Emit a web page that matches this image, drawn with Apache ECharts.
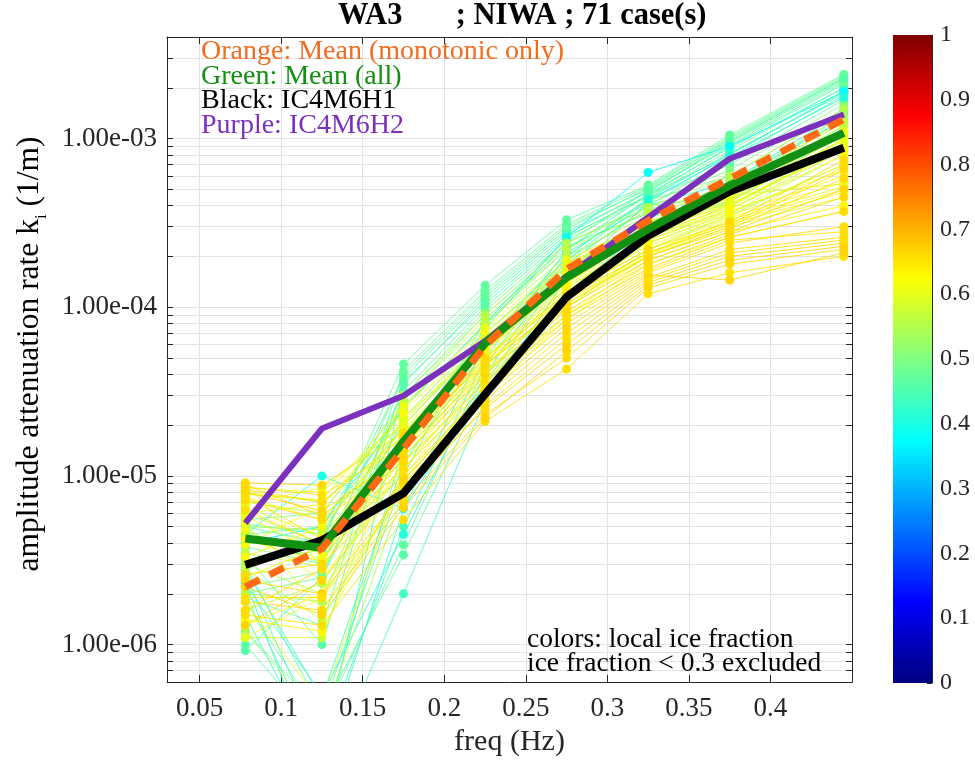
<!DOCTYPE html>
<html><head><meta charset="utf-8">
<script src="https://cdn.jsdelivr.net/npm/echarts@6/dist/echarts.min.js"></script>
<style>html,body{margin:0;padding:0;background:#fff}#chart{width:975px;height:761px}</style>
</head><body><div id="chart"></div>
<script>
// ---------- data ----------
const freqHz = [0.078, 0.125, 0.175, 0.225, 0.275, 0.325, 0.375, 0.445];

const meanMonotonic = [2.2e-6, 3.7e-6, 1.45e-5, 5.9e-5, 1.68e-4, 3.26e-4, 5.78e-4, 1.30e-3];
const meanAll       = [4.26e-6, 3.75e-6, 1.6e-5, 6.1e-5, 1.5e-4, 2.91e-4, 5.27e-4, 1.08e-3];
const ic4m6h1       = [2.97e-6, 4.15e-6, 7.9e-6, 3.05e-5, 1.15e-4, 2.65e-4, 4.86e-4, 8.83e-4];
const ic4m6h2       = [5.25e-6, 1.91e-5, 2.99e-5, 6.3e-5, 1.53e-4, 3.41e-4, 7.59e-4, 1.39e-3];

const cyanIce = [0.38, 0.40, 0.41];
const cyanK = [
  [4.0e-6, 5.0e-6, 2.5e-5, 8.0e-5, 2.6e-4, 6.3e-4, 9.0e-4, 1.9e-3],
  [4.5e-6, 1.0e-5, 6.4e-6, 3.5e-5, 1.2e-4, 3.0e-4, 5.5e-4, 1.3e-3],
  [2.3e-6, 5.0e-7, 4.5e-6, 4.0e-5, 1.9e-4, 4.3e-4, 7.8e-4, 1.75e-3]
];

const aquaIce = [0.47, 0.48, 0.45, 0.46, 0.49, 0.44, 0.46, 0.47, 0.50, 0.49, 0.42,
                 0.48, 0.50, 0.45, 0.50, 0.46, 0.47, 0.44, 0.48, 0.47, 0.46, 0.43];
const aquaK = [
  [5.0e-6, 4.0e-6, 4.6e-5, 1.35e-4, 3.3e-4, 5.3e-4, 1.05e-3, 2.4e-3],
  [3.8e-6, 3.0e-6, 4.0e-5, 1.2e-4, 3.0e-4, 5.0e-4, 1.0e-3, 2.3e-3],
  [2.0e-6, 2.2e-7, 3.5e-5, 1.1e-4, 2.8e-4, 4.8e-4, 9.5e-4, 2.2e-3],
  [9.2e-7, 2.5e-6, 3.2e-5, 1.0e-4, 2.6e-4, 4.6e-4, 9.0e-4, 2.1e-3],
  [4.5e-6, 5.0e-6, 3.0e-5, 9.5e-5, 2.5e-4, 4.5e-4, 8.5e-4, 2.0e-3],
  [2.4e-6, 1.5e-7, 2.0e-6, 2.8e-5, 1.5e-4, 4.2e-4, 8.0e-4, 1.9e-3],
  [3.0e-6, 4.0e-7, 3.4e-6, 3.5e-5, 1.8e-4, 4.0e-4, 7.5e-4, 1.8e-3],
  [1.8e-6, 3.5e-7, 3.9e-6, 4.5e-5, 2.0e-4, 4.4e-4, 7.0e-4, 1.7e-3],
  [4.8e-6, 3.0e-6, 2.8e-5, 9.0e-5, 2.4e-4, 4.1e-4, 6.5e-4, 1.6e-3],
  [5.5e-6, 6.0e-6, 2.5e-5, 8.0e-5, 2.2e-4, 4.3e-4, 6.0e-4, 1.5e-3],
  [1.5e-6, 2.0e-7, 6.4e-6, 6.0e-5, 2.1e-4, 4.0e-4, 5.5e-4, 1.45e-3],
  [2.0e-6, 2.5e-6, 2.2e-5, 7.0e-5, 1.9e-4, 3.8e-4, 5.0e-4, 1.4e-3],
  [3.2e-6, 3.6e-6, 2.0e-5, 6.5e-5, 1.8e-4, 4.0e-4, 4.5e-4, 1.2e-3],
  [1.2e-6, 4.0e-7, 1.0e-5, 8.5e-5, 2.3e-4, 3.6e-4, 4.2e-4, 1.1e-3],
  [2.2e-6, 2.7e-6, 1.8e-5, 6.0e-5, 1.7e-4, 3.5e-4, 4.0e-4, 9.0e-4],
  [1.0e-6, 3.0e-7, 1.5e-5, 7.5e-5, 2.6e-4, 4.6e-4, 8.0e-4, 1.9e-3],
  [4.0e-6, 4.2e-6, 3.8e-5, 1.15e-4, 2.9e-4, 5.1e-4, 9.8e-4, 2.25e-3],
  [2.6e-6, 2.6e-7, 5.0e-6, 5.0e-5, 2.2e-4, 4.7e-4, 8.8e-4, 2.0e-3],
  [5.2e-6, 4.5e-6, 2.6e-5, 7.8e-5, 2.4e-4, 4.9e-4, 9.2e-4, 2.15e-3],
  [1.9e-6, 1.3e-6, 4.2e-5, 1.25e-4, 3.1e-4, 5.2e-4, 1.02e-3, 2.35e-3],
  [3.4e-6, 1.0e-6, 3.6e-5, 1.05e-4, 2.7e-4, 4.9e-4, 9.6e-4, 2.28e-3],
  [2.8e-6, 4.8e-7, 1.2e-5, 5.5e-5, 2.0e-4, 4.4e-4, 8.2e-4, 1.85e-3]
];

const limeIce = [0.56, 0.57, 0.58, 0.55, 0.57, 0.55, 0.56, 0.54, 0.55, 0.58, 0.54, 0.56];
const limeK = [
  [7.0e-6, 6.0e-6, 2.5e-5, 8.0e-5, 2.0e-4, 3.5e-4, 5.0e-4, 1.3e-3],
  [6.0e-6, 4.0e-6, 2.2e-5, 7.0e-5, 1.8e-4, 3.2e-4, 4.8e-4, 1.2e-3],
  [1.1e-6, 1.1e-6, 1.8e-5, 5.5e-5, 1.6e-4, 3.0e-4, 4.5e-4, 1.1e-3],
  [3.0e-6, 2.0e-6, 1.5e-5, 5.0e-5, 1.4e-4, 2.8e-4, 4.2e-4, 1.0e-3],
  [4.5e-6, 3.2e-6, 1.3e-5, 4.5e-5, 1.3e-4, 2.6e-4, 4.0e-4, 9.0e-4],
  [1.6e-6, 2.3e-6, 1.1e-5, 4.0e-5, 1.2e-4, 2.5e-4, 3.8e-4, 8.5e-4],
  [2.8e-6, 1.4e-6, 9.0e-6, 3.5e-5, 1.1e-4, 2.4e-4, 3.6e-4, 8.0e-4],
  [5.0e-6, 4.8e-6, 2.0e-5, 6.5e-5, 1.7e-4, 3.3e-4, 5.5e-4, 1.35e-3],
  [2.0e-6, 1.8e-6, 3.0e-5, 9.0e-5, 2.4e-4, 3.9e-4, 6.0e-4, 1.5e-3],
  [8.0e-6, 7.0e-6, 1.7e-5, 5.5e-5, 1.5e-4, 2.9e-4, 4.6e-4, 5.4e-4],
  [1.2e-6, 3.5e-7, 8.0e-6, 3.0e-5, 1.0e-4, 2.2e-4, 3.5e-4, 7.0e-4],
  [3.5e-6, 2.9e-6, 2.8e-5, 8.5e-5, 2.2e-4, 3.7e-4, 5.2e-4, 1.25e-3]
];

const yellowIce = [0.61, 0.62, 0.60, 0.62, 0.61, 0.60, 0.62, 0.61, 0.63,
                   0.60, 0.62, 0.61, 0.60, 0.63, 0.61, 0.62, 0.60, 0.63];
const yellowK = [
  [8.5e-6, 8.0e-6, 2.2e-5, 6.0e-5, 1.6e-4, 2.9e-4, 4.0e-4, 9.5e-4],
  [7.5e-6, 5.5e-6, 1.9e-5, 5.5e-5, 1.4e-4, 2.6e-4, 3.8e-4, 8.0e-4],
  [6.5e-6, 4.4e-6, 1.6e-5, 5.0e-5, 1.3e-4, 2.4e-4, 3.6e-4, 7.0e-4],
  [5.8e-6, 3.4e-6, 1.4e-5, 4.6e-5, 1.2e-4, 2.2e-4, 3.4e-4, 5.5e-4],
  [4.8e-6, 2.4e-6, 1.2e-5, 4.2e-5, 1.1e-4, 2.1e-4, 3.2e-4, 5.0e-4],
  [1.1e-6, 1.9e-6, 1.0e-5, 3.8e-5, 1.0e-4, 2.0e-4, 3.0e-4, 4.5e-4],
  [3.9e-6, 6.6e-6, 2.4e-5, 7.0e-5, 1.8e-4, 3.1e-4, 4.4e-4, 1.05e-3],
  [2.5e-6, 3.8e-6, 1.7e-5, 5.2e-5, 1.5e-4, 2.7e-4, 3.9e-4, 9.0e-4],
  [1.4e-6, 1.2e-6, 9.5e-6, 3.2e-5, 9.0e-5, 1.9e-4, 2.8e-4, 4.0e-4],
  [6.8e-6, 8.5e-6, 2.0e-5, 6.2e-5, 1.7e-4, 3.0e-4, 4.2e-4, 1.0e-3],
  [9.0e-6, 2.9e-6, 1.3e-5, 4.4e-5, 1.25e-4, 2.3e-4, 3.5e-4, 6.0e-4],
  [5.3e-6, 1.6e-6, 8.5e-6, 3.0e-5, 8.5e-5, 1.8e-4, 2.6e-4, 3.7e-4],
  [1.8e-6, 4.4e-7, 1.1e-5, 4.0e-5, 1.15e-4, 2.1e-4, 3.3e-4, 5.2e-4],
  [3.3e-6, 5.0e-6, 1.8e-5, 5.8e-5, 1.55e-4, 2.75e-4, 4.1e-4, 8.5e-4],
  [7.8e-6, 7.2e-6, 2.6e-5, 7.5e-5, 1.9e-4, 3.2e-4, 4.5e-4, 1.1e-3],
  [1.3e-6, 2.0e-6, 1.2e-5, 3.6e-5, 1.05e-4, 2.05e-4, 3.1e-4, 4.8e-4],
  [6.0e-6, 6.8e-6, 2.1e-5, 6.6e-5, 1.75e-4, 2.95e-4, 4.3e-4, 9.8e-4],
  [4.2e-6, 3.1e-6, 1.5e-5, 4.8e-5, 1.35e-4, 2.5e-4, 3.7e-4, 6.5e-4]
];

const goldIce = [0.66, 0.655, 0.665, 0.66, 0.655, 0.66, 0.665, 0.66,
                 0.655, 0.665, 0.66, 0.655, 0.66, 0.665, 0.66, 0.655];
const goldK = [
  [9.1e-6, 8.8e-6, 1.8e-5, 5.0e-5, 1.2e-4, 2.2e-4, 3.2e-4, 7.5e-4],
  [8.6e-6, 7.7e-6, 1.5e-5, 4.5e-5, 1.1e-4, 2.0e-4, 3.0e-4, 6.5e-4],
  [8.0e-6, 6.2e-6, 1.3e-5, 4.0e-5, 1.0e-4, 1.9e-4, 2.8e-4, 5.0e-4],
  [7.2e-6, 5.5e-6, 1.2e-5, 3.6e-5, 9.0e-5, 1.7e-4, 2.6e-4, 3.7e-4],
  [6.3e-6, 3.9e-6, 1.0e-5, 3.2e-5, 8.0e-5, 1.6e-4, 2.4e-4, 3.0e-4],
  [2.6e-6, 3.0e-6, 9.0e-6, 2.8e-5, 7.0e-5, 1.5e-4, 2.2e-4, 2.6e-4],
  [2.4e-6, 2.0e-6, 8.0e-6, 2.5e-5, 6.0e-5, 1.4e-4, 2.0e-4, 2.4e-4],
  [1.8e-6, 1.6e-6, 7.0e-6, 2.3e-5, 5.0e-5, 1.3e-4, 1.8e-4, 2.2e-4],
  [1.5e-6, 1.3e-6, 5.5e-6, 2.1e-5, 4.3e-5, 1.2e-4, 1.6e-4, 2.0e-4],
  [1.3e-6, 2.4e-6, 9.5e-6, 3.0e-5, 7.5e-5, 1.55e-4, 1.45e-4, 2.1e-4],
  [8.9e-6, 5.8e-6, 1.4e-5, 4.2e-5, 9.5e-5, 1.8e-4, 2.7e-4, 4.5e-4],
  [7.6e-6, 4.2e-6, 1.1e-5, 3.4e-5, 8.5e-5, 1.65e-4, 2.5e-4, 2.8e-4],
  [1.6e-6, 2.8e-6, 1.6e-5, 4.8e-5, 1.15e-4, 2.1e-4, 3.1e-4, 6.8e-4],
  [2.2e-6, 1.5e-6, 6.5e-6, 2.2e-5, 5.5e-5, 1.35e-4, 1.9e-4, 2.3e-4],
  [8.3e-6, 7.0e-6, 1.7e-5, 4.6e-5, 1.05e-4, 2.0e-4, 2.9e-4, 5.8e-4],
  [1.9e-6, 1.9e-6, 7.5e-6, 2.6e-5, 6.5e-5, 1.45e-4, 2.1e-4, 2.5e-4]
];

// ---------- axes / ticks ----------
const xMin = 0.03, xMax = 0.45;
const xTickValues = [0.05, 0.1, 0.15, 0.2, 0.25, 0.3, 0.35, 0.4];
const yMin = 6e-7, yMax = 4e-3;
const yDecadeTicks = [1e-6, 1e-5, 1e-4, 1e-3];
const yAllTicks = [];
[1e-7, 1e-6, 1e-5, 1e-4, 1e-3].forEach(d => {
  for (let m = 1; m <= 9; m++) {
    const v = +(m * d).toPrecision(3);
    if (v >= yMin && v <= yMax) yAllTicks.push(v);
  }
});

// ---------- style helpers ----------
function jetColor(v) {
  const cl = t => Math.max(0, Math.min(1, t));
  const r = cl(1.5 - Math.abs(4 * v - 3));
  const g = cl(1.5 - Math.abs(4 * v - 2));
  const b = cl(1.5 - Math.abs(4 * v - 1));
  return 'rgb(' + Math.round(r * 255) + ',' + Math.round(g * 255) + ',' + Math.round(b * 255) + ')';
}
const SERIF = '"Liberation Serif", "DejaVu Serif", serif';
const AX = '#262626';
const GRIDC = '#e2e2e2';

function fmtExp(v) {
  const e = Math.round(Math.log10(v));
  const m = v / Math.pow(10, e);
  const s = e < 0 ? '-' : '+';
  const ae = Math.abs(e);
  return m.toFixed(2) + 'e' + s + (ae < 10 ? '0' : '') + ae;
}

const series = [];
function addCases(iceArr, kArr) {
  kArr.forEach((k, idx) => {
    const c = jetColor(iceArr[idx]);
    series.push({
      type: 'line', xAxisIndex: 0, yAxisIndex: 0,
      data: freqHz.map((f, i) => [f, k[i]]),
      symbol: 'circle', symbolSize: 9, showSymbol: true,
      lineStyle: { color: c, width: 1, opacity: 0.85 },
      itemStyle: { color: c },
      silent: true, clip: true, z: 2
    });
  });
}
addCases(aquaIce, aquaK);
addCases(cyanIce, cyanK);
addCases(limeIce, limeK);
addCases(yellowIce, yellowK);
addCases(goldIce, goldK);

function meanLine(vals, color, width, type, z) {
  return {
    type: 'line', xAxisIndex: 0, yAxisIndex: 0,
    data: freqHz.map((f, i) => [f, vals[i]]),
    symbol: 'none', clip: true, z: z, silent: true,
    lineStyle: { color: color, width: width, type: type, cap: 'butt', join: 'round' }
  };
}
series.push(meanLine(ic4m6h2, '#7B30BE', 6, 'solid', 5));
series.push(meanLine(ic4m6h1, '#000000', 8, 'solid', 6));
series.push(meanLine(meanAll, '#119011', 8, 'solid', 7));
series.push(meanLine(meanMonotonic, '#FF6A12', 7, [16, 11], 8));

// colorbar
const jetStops = [];
for (let i = 0; i <= 16; i++) {
  const v = 1 - i / 16;
  jetStops.push({ offset: i / 16, color: jetColor(v) });
}
series.push({
  type: 'bar', xAxisIndex: 2, yAxisIndex: 2, data: [1], barWidth: '100%',
  itemStyle: { color: new echarts.graphic.LinearGradient(0, 0, 0, 1, jetStops) },
  silent: true, z: 1
});

const labelStyle = { fontFamily: SERIF, fontSize: 27, color: AX };

const option = {
  animation: false,
  backgroundColor: '#ffffff',
  title: {
    text: 'WA3       ; NIWA ; 71 case(s)',
    left: 333, top: -4,
    textStyle: { fontFamily: SERIF, fontWeight: 'bold', fontSize: 30.5, color: '#000' }
  },
  grid: [
    { left: 167, right: 123, top: 37, bottom: 79, outerBoundsMode: 'none', containLabel: false },
    { left: 893, width: 39, top: 35, bottom: 78, outerBoundsMode: 'none', containLabel: false }
  ],
  xAxis: [
    {
      type: 'value', gridIndex: 0, min: xMin, max: xMax, position: 'bottom',
      axisLine: { show: true, onZero: false, lineStyle: { color: AX, width: 1 } },
      axisTick: { show: true, inside: true, length: 7, customValues: xTickValues, lineStyle: { color: AX } },
      axisLabel: Object.assign({ customValues: xTickValues, margin: 13, formatter: v => String(+v.toFixed(2)) }, labelStyle),
      splitLine: { show: true, lineStyle: { color: GRIDC, width: 1 } },
      name: 'freq (Hz)', nameLocation: 'middle', nameGap: 43,
      nameTextStyle: { fontFamily: SERIF, fontSize: 30, color: AX }
    },
    {
      type: 'value', gridIndex: 0, min: xMin, max: xMax, position: 'top',
      axisLine: { show: true, onZero: false, lineStyle: { color: AX, width: 1 } },
      axisTick: { show: true, inside: true, length: 7, customValues: xTickValues, lineStyle: { color: AX } },
      axisLabel: { show: false, customValues: xTickValues },
      splitLine: { show: false }
    },
    {
      type: 'category', gridIndex: 1, data: ['c'], show: false
    }
  ],
  yAxis: [
    {
      type: 'log', logBase: 10, gridIndex: 0, min: yMin, max: yMax, position: 'left',
      axisLine: { show: true, onZero: false, lineStyle: { color: AX, width: 1 } },
      axisTick: { show: true, inside: true, length: 6, customValues: yAllTicks, lineStyle: { color: AX } },
      axisLabel: Object.assign({ customValues: yDecadeTicks, margin: 10, formatter: v => fmtExp(v) }, labelStyle),
      splitLine: { show: true, lineStyle: { color: GRIDC, width: 1 } },
      minorTick: { show: false }, minorSplitLine: { show: false }
    },
    {
      type: 'log', logBase: 10, gridIndex: 0, min: yMin, max: yMax, position: 'right',
      axisLine: { show: true, onZero: false, lineStyle: { color: AX, width: 1 } },
      axisTick: { show: true, inside: true, length: 6, customValues: yAllTicks, lineStyle: { color: AX } },
      axisLabel: { show: false, customValues: yDecadeTicks },
      splitLine: { show: false }
    },
    {
      type: 'value', gridIndex: 1, min: 0, max: 1, interval: 0.1, position: 'right',
      axisLine: { show: true, lineStyle: { color: AX, width: 1 } },
      axisTick: { show: true, inside: true, length: 5, lineStyle: { color: AX } },
      axisLabel: { fontFamily: SERIF, fontSize: 24, color: AX, margin: 8, formatter: v => String(+v.toFixed(1)) },
      splitLine: { show: false }
    }
  ],
  graphic: [
    { type: 'text', left: 201, top: 38, z: 100,
      style: { text: 'Orange: Mean (monotonic only)', fill: '#F26B1F', font: '28px ' + SERIF } },
    { type: 'text', left: 201, top: 62.5, z: 100,
      style: { text: 'Green: Mean (all)', fill: '#119011', font: '28px ' + SERIF } },
    { type: 'text', left: 201, top: 87, z: 100,
      style: { text: 'Black: IC4M6H1', fill: '#000000', font: '28px ' + SERIF } },
    { type: 'text', left: 201, top: 111.5, z: 100,
      style: { text: 'Purple: IC4M6H2', fill: '#7B30BE', font: '28px ' + SERIF } },
    { type: 'text', left: 527, top: 626, z: 100,
      style: { text: 'colors: local ice fraction\nice fraction < 0.3 excluded', fill: '#000', font: '27.5px ' + SERIF, lineHeight: 24 } },
    { type: 'text', x: 30, y: 354, rotation: Math.PI / 2, z: 100,
      style: {
        text: '{m|amplitude attenuation rate k}{s|i}{m| (1/m)}',
        align: 'center', verticalAlign: 'middle',
        rich: {
          m: { fontFamily: SERIF, fontSize: 31.5, color: AX, lineHeight: 40, verticalAlign: 'middle' },
          s: { fontFamily: SERIF, fontSize: 17, color: AX, lineHeight: 17, verticalAlign: 'bottom' }
        }
      } }
  ],
  series: series
};

const chart = echarts.init(document.getElementById('chart'), null, { renderer: 'canvas' });
chart.setOption(option);
</script>
</body></html>
